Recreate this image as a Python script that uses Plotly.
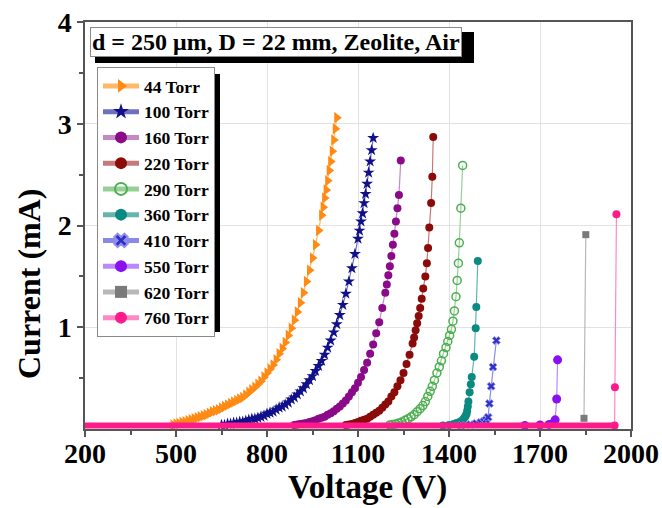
import plotly.graph_objects as go

# ---------------- data ----------------
X_TICKS = [200, 500, 800, 1100, 1400, 1700, 2000]
X_MINOR = [350, 650, 950, 1250, 1550, 1850]
Y_TICKS = [1, 2, 3, 4]
Y_MINOR = [0.5, 1.5, 2.5, 3.5]

NAMES = ["44 Torr", "100 Torr", "160 Torr", "220 Torr", "290 Torr",
         "360 Torr", "410 Torr", "550 Torr", "620 Torr", "760 Torr"]

V_44 = [490, 500, 510, 520, 530, 540, 550, 560, 570, 580,
        590, 600, 610, 620, 630, 640, 650, 660, 670, 680,
        690, 700, 710, 720, 730, 740, 750, 760, 770, 780,
        790, 800, 810, 820, 830, 840, 850, 860, 870, 880,
        890, 900, 910, 920, 930, 940, 950, 960, 970, 980,
        985, 990, 995, 1000, 1005, 1010, 1015, 1020, 1025, 1030]
I_44 = [0.04, 0.05, 0.055, 0.065, 0.07, 0.08, 0.09, 0.10, 0.11, 0.12,
        0.13, 0.14, 0.155, 0.17, 0.18, 0.19, 0.205, 0.22, 0.235, 0.25,
        0.265, 0.28, 0.295, 0.31, 0.335, 0.36, 0.385, 0.41, 0.44, 0.47,
        0.51, 0.55, 0.59, 0.63, 0.68, 0.74, 0.79, 0.85, 0.92, 0.99,
        1.07, 1.15, 1.24, 1.34, 1.45, 1.56, 1.68, 1.81, 1.95, 2.10,
        2.18, 2.27, 2.35, 2.44, 2.54, 2.63, 2.73, 2.84, 2.95, 3.06]

V_100 = [650, 660, 670, 680, 690, 700, 710, 720, 730, 740,
         750, 760, 770, 780, 790, 800, 810, 820, 830, 840,
         850, 860, 870, 880, 890, 900, 910, 920, 930, 940,
         950, 960, 970, 980, 990, 1000, 1010, 1020, 1030, 1040,
         1050, 1060, 1070, 1080, 1090, 1100, 1105, 1110, 1115, 1120,
         1125, 1130, 1135, 1140, 1145, 1150]
I_100 = [0.04, 0.04, 0.05, 0.05, 0.06, 0.06, 0.07, 0.07, 0.08, 0.09,
         0.10, 0.10, 0.11, 0.12, 0.13, 0.15, 0.16, 0.17, 0.19, 0.21,
         0.22, 0.24, 0.26, 0.29, 0.31, 0.34, 0.37, 0.40, 0.44, 0.48,
         0.52, 0.57, 0.62, 0.67, 0.73, 0.80, 0.87, 0.95, 1.03, 1.12,
         1.22, 1.33, 1.45, 1.58, 1.72, 1.87, 1.95, 2.04, 2.12, 2.22,
         2.31, 2.41, 2.52, 2.63, 2.74, 2.86]

V_160 = [890, 900, 910, 920, 930, 940, 950, 960, 970, 980,
         990, 1000, 1010, 1020, 1030, 1040, 1050, 1060, 1070, 1080,
         1090, 1100, 1110, 1120, 1130, 1140, 1150, 1160, 1170, 1180,
         1190, 1195, 1200, 1205, 1210, 1215, 1220, 1225, 1230, 1235, 1241]
I_160 = [0.04, 0.045, 0.05, 0.055, 0.06, 0.07, 0.075, 0.085, 0.10, 0.11,
         0.12, 0.14, 0.155, 0.175, 0.20, 0.22, 0.25, 0.28, 0.32, 0.36,
         0.40, 0.455, 0.51, 0.58, 0.65, 0.74, 0.83, 0.94, 1.05, 1.19,
         1.34, 1.42, 1.51, 1.60, 1.70, 1.81, 1.92, 2.04, 2.17, 2.30, 2.64]

V_220 = [1060, 1070, 1080, 1090, 1100, 1110, 1120, 1130, 1140, 1150,
         1160, 1170, 1180, 1190, 1200, 1210, 1220, 1230, 1240, 1250,
         1260, 1270, 1280, 1285, 1290, 1295, 1300, 1305, 1310, 1315,
         1322, 1327, 1331, 1335, 1341, 1345, 1348]
I_220 = [0.04, 0.045, 0.05, 0.06, 0.07, 0.08, 0.09, 0.10, 0.12, 0.14,
         0.16, 0.18, 0.21, 0.24, 0.27, 0.32, 0.36, 0.42, 0.48, 0.55,
         0.64, 0.73, 0.84, 0.90, 0.97, 1.04, 1.11, 1.19, 1.28, 1.38,
         1.50, 1.63, 1.78, 1.98, 2.22, 2.48, 2.87]

V_290 = [1205, 1215, 1225, 1235, 1245, 1255, 1265, 1275, 1285, 1295,
         1305, 1314, 1322, 1330, 1338, 1345, 1352, 1360, 1368, 1375,
         1382, 1390, 1396, 1402, 1408, 1413, 1418, 1423, 1427, 1431,
         1434, 1439, 1445]
I_290 = [0.04, 0.045, 0.05, 0.06, 0.07, 0.085, 0.10, 0.12, 0.14, 0.17,
         0.20, 0.23, 0.27, 0.32, 0.37, 0.42, 0.48, 0.55, 0.61, 0.67,
         0.74, 0.80, 0.86, 0.92, 0.98, 1.06, 1.16, 1.30, 1.46, 1.63,
         1.83, 2.17, 2.59]

V_360 = [1380, 1400, 1415, 1425, 1435, 1442, 1448, 1453, 1455, 1458,
         1460, 1462, 1464, 1468, 1472, 1475, 1483, 1488, 1490, 1495]
I_360 = [0.035, 0.04, 0.05, 0.06, 0.07, 0.08, 0.10, 0.12, 0.13, 0.15,
         0.18, 0.22, 0.27, 0.36, 0.44, 0.51, 0.71, 0.99, 1.20, 1.65]

V_410 = [1440, 1470, 1490, 1505, 1515, 1522, 1529, 1533, 1539, 1545, 1556]
I_410 = [0.035, 0.045, 0.055, 0.065, 0.075, 0.09, 0.115, 0.25, 0.42, 0.61, 0.87]

V_550 = [1650, 1700, 1730, 1745, 1750, 1755, 1758]
I_550 = [0.035, 0.04, 0.045, 0.06, 0.09, 0.295, 0.68]

V_620 = [1845, 1851]
I_620 = [0.105, 1.91]

V_760 = [200, 1946, 1947, 1952]
I_760 = [0.035, 0.035, 0.41, 2.11]

# ---------------- styles ----------------
MARK_COLORS = ["#ff8a14", "#10108a", "#8a0a8a", "#8b0a0a", "#4caf50",
               "#0a8a80", "#3030c8", "#8a10f0", "#7a7a7a", "#ff1a8c"]
LINE_COLORS = ["#ffb868", "#7070c0", "#c488c4", "#c47a7a", "#96d096",
               "#66b4ae", "#8a8ae6", "#bb88ff", "#b8b8b8", "#ff88c4"]
SYMBOLS = ["triangle-right", "star", "circle", "circle", "circle-open",
           "circle", "x", "circle", "square", "circle"]
SIZES = [10, 9, 8, 8, 8, 8, 7, 9, 7, 8]

SERIES_V = [V_44, V_100, V_160, V_220, V_290, V_360, V_410, V_550, V_620, V_760]
SERIES_I = [I_44, I_100, I_160, I_220, I_290, I_360, I_410, I_550, I_620, I_760]

FONT = "Liberation Serif"

fig = go.Figure()

for k in range(10):
    vx, iy = SERIES_V[k], SERIES_I[k]
    if k == 9:
        vx, iy = vx[1:], iy[1:]
    mk = dict(symbol=SYMBOLS[k], size=SIZES[k], color=MARK_COLORS[k])
    if SYMBOLS[k] == "circle-open":
        mk["line"] = dict(width=1.5, color=MARK_COLORS[k])
    elif SYMBOLS[k] == "x":
        mk["line"] = dict(width=1, color="#9090ee")
    else:
        mk["line"] = dict(width=0)
    fig.add_trace(go.Scatter(
        x=vx, y=iy, mode="lines+markers", name=NAMES[k],
        line=dict(color=LINE_COLORS[k], width=1.2), marker=mk))

# thick baseline band of the 760 Torr sweep (its first two points), on top
fig.add_trace(go.Scatter(
    x=V_760[:2], y=I_760[:2], mode="lines", showlegend=False,
    line=dict(color=MARK_COLORS[9], width=6), hoverinfo="skip"))

L, R, T, B = 85, 31, 22, 79
W, H = 662, 508
PW, PH = W - L - R, H - T - B


def px(xp):
    return (xp - L) / PW


def py(yp):
    return (H - B - yp) / PH


TITLE_FONT = dict(family=FONT, size=33, color="black", weight="bold")

fig.update_layout(
    width=W, height=H,
    margin=dict(l=L, r=R, t=T, b=B, autoexpand=False),
    paper_bgcolor="white", plot_bgcolor="white",
    font=dict(family=FONT, color="black"),
    showlegend=True,
    legend=dict(
        x=px(97), y=py(67), xanchor="left", yanchor="top",
        bgcolor="white", bordercolor="#8a8a8a", borderwidth=1,
        font=dict(family=FONT, size=17.5, color="black", weight="bold"),
        itemsizing="constant", itemwidth=36, tracegroupgap=0,
    ),
    annotations=[
        dict(xref="paper", yref="paper", x=px(90), y=py(27),
             xanchor="left", yanchor="top", showarrow=False,
             text="d = 250 μm, D = 22 mm, Zeolite, Air",
             font=dict(family=FONT, size=24, color="black", weight="bold"),
             bgcolor="white", bordercolor="#8a8a8a", borderwidth=1,
             borderpad=1),
        dict(xref="paper", yref="paper", x=px(367), y=py(487),
             xanchor="center", yanchor="middle", showarrow=False,
             text="Voltage (V)", font=TITLE_FONT),
        dict(xref="paper", yref="paper", x=px(29), y=py(284),
             xanchor="center", yanchor="middle", showarrow=False,
             textangle=-90, text="Current (mA)",
             font=dict(family=FONT, size=32, color="black", weight="bold")),
    ],
    shapes=[
        dict(type="rect", xref="paper", yref="paper", layer="above",
             x0=px(95), x1=px(474), y0=py(63), y1=py(32),
             fillcolor="black", line=dict(width=0)),
        dict(type="rect", xref="paper", yref="paper", layer="above",
             x0=px(102), x1=px(220), y0=py(332), y1=py(74),
             fillcolor="black", line=dict(width=0)),
    ],
)

axis_common = dict(
    automargin=False,
    showline=True, linecolor="#555555", linewidth=1.5, mirror=True,
    ticks="outside", ticklen=6, tickwidth=1.5, tickcolor="#555555",
    showgrid=True, gridcolor="#e2e2e2", gridwidth=1, zeroline=False,
    tickfont=dict(family=FONT, size=28, color="black", weight="bold"),
)

fig.update_xaxes(
    range=[200, 2000], tickmode="array", tickvals=X_TICKS,
    ticktext=[str(v) for v in X_TICKS], ticklabelstandoff=-7,
    minor=dict(tickmode="array", tickvals=X_MINOR, ticklen=4,
               tickcolor="#555555", showgrid=False),
    **axis_common)

fig.update_yaxes(
    range=[0, 4], tickmode="array", tickvals=Y_TICKS,
    ticktext=[str(v) for v in Y_TICKS],
    minor=dict(tickmode="array", tickvals=Y_MINOR, ticklen=4,
               tickcolor="#555555", showgrid=False),
    **axis_common)

fig.write_html(
    "out.html",
    config={"displayModeBar": False},
    post_script="document.body.style.margin='0';document.body.style.overflow='hidden';",
)
